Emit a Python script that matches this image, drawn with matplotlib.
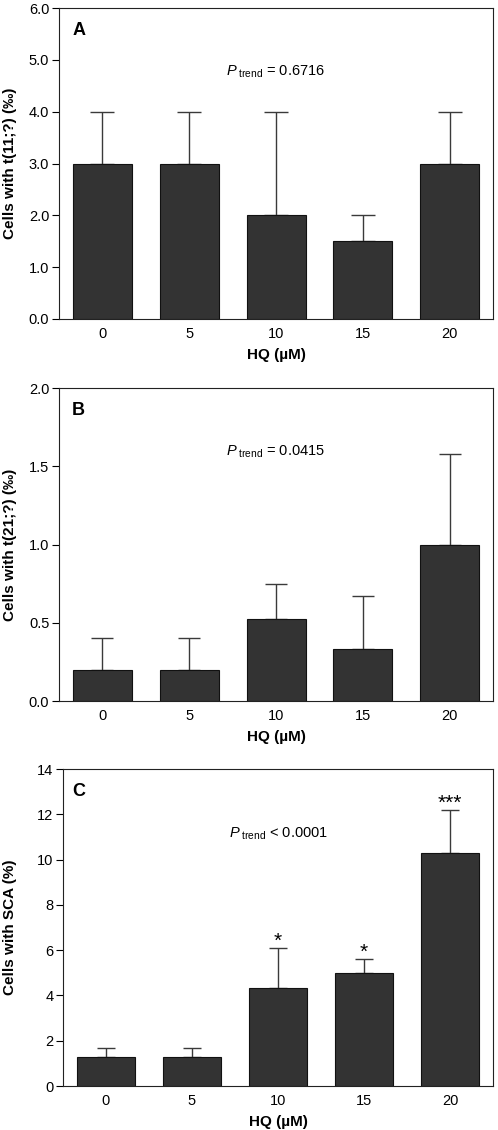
import numpy as np
import matplotlib
matplotlib.use("Agg")
import matplotlib.pyplot as plt

plt.rcParams['font.family'] = ['Liberation Sans', 'DejaVu Sans']
plt.rcParams['mathtext.fontset'] = 'custom'
plt.rcParams['mathtext.rm'] = 'Liberation Sans'
plt.rcParams['mathtext.it'] = 'Liberation Sans:italic'

# Data
doses = ["0", "5", "10", "15", "20"]

t11_mean = [3.0, 3.0, 2.0, 1.5, 3.0]
t11_err = [1.0, 1.0, 2.0, 0.5, 1.0]

t21_mean = [0.2, 0.2, 0.525, 0.335, 1.0]
t21_err = [0.2, 0.2, 0.225, 0.335, 0.58]

sca_mean = [1.3, 1.3, 4.35, 5.0, 10.3]
sca_err = [0.4, 0.4, 1.75, 0.6, 1.9]
sca_stars = ["", "", "*", "*", "***"]

panels = [
    dict(letter="A", mean=t11_mean, err=t11_err, ylim=(0, 6), yticks=np.arange(0, 6.1, 1.0),
         fmt="{:.1f}", ylabel="Cells with t(11;?) (‰)", ptext=r"$P_{\mathrm{\ trend}}$ = 0.6716",
         rect=[0.1185, 0.7177, 0.8715, 0.2752], cap=8.5, lab_x=-0.097, let_x=0.032, stars=None),
    dict(letter="B", mean=t21_mean, err=t21_err, ylim=(0, 2), yticks=np.arange(0, 2.01, 0.5),
         fmt="{:.1f}", ylabel="Cells with t(21;?) (‰)", ptext=r"$P_{\mathrm{\ trend}}$ = 0.0415",
         rect=[0.1185, 0.3796, 0.8715, 0.2770], cap=8, lab_x=-0.097, let_x=0.030, stars=None),
    dict(letter="C", mean=sca_mean, err=sca_err, ylim=(0, 14), yticks=np.arange(0, 14.1, 2),
         fmt="{:.0f}", ylabel="Cells with SCA (%)", ptext=r"$P_{\mathrm{\ trend}}$ < 0.0001",
         rect=[0.1265, 0.0389, 0.8635, 0.2805], cap=6.5, lab_x=-0.107, let_x=0.021, stars=sca_stars),
]

fig = plt.figure(figsize=(4.98, 11.3), dpi=100)

for p in panels:
    ax = fig.add_axes(p["rect"])
    x = np.arange(len(doses))
    ax.bar(x, p["mean"], width=0.68, color="#333333", edgecolor="#111111", linewidth=0.8, zorder=2)
    ax.errorbar(x, p["mean"], yerr=[np.zeros(len(x)), p["err"]], fmt="none",
                ecolor="#3a3a3a", elinewidth=1.0, capsize=p["cap"], capthick=1.0, zorder=1)
    ax.set_xlim(-0.5, 4.5)
    ax.set_ylim(*p["ylim"])
    ax.set_yticks(p["yticks"])
    ax.set_yticklabels([p["fmt"].format(v) for v in p["yticks"]], fontsize=10.5)
    ax.set_xticks(x)
    ax.set_xticklabels(doses, fontsize=10.5)
    ax.tick_params(axis="x", length=0, pad=6)
    ax.tick_params(axis="y", direction="out", length=5, width=0.8, pad=2)
    for s in ax.spines.values():
        s.set_linewidth(0.8)
        s.set_color("#222222")
    ax.set_xlabel("HQ (µM)", fontsize=11, fontweight="bold", labelpad=5)
    ax.set_ylabel(p["ylabel"], fontsize=11, fontweight="bold")
    ax.yaxis.set_label_coords(p["lab_x"], 0.5)
    ax.text(p["let_x"], 0.928, p["letter"], transform=ax.transAxes, fontsize=13,
            fontweight="bold", ha="left", va="center")
    ax.text(0.5, 0.795, p["ptext"], transform=ax.transAxes, fontsize=10.5,
            ha="center", va="center")
    if p["stars"]:
        for xi, m, e, s in zip(x, p["mean"], p["err"], p["stars"]):
            if s:
                ax.annotate(s, (xi, m + e), xytext=(0, -2), textcoords="offset points",
                            ha="center", va="bottom", fontsize=15)

fig.savefig("out.png", dpi=100)
